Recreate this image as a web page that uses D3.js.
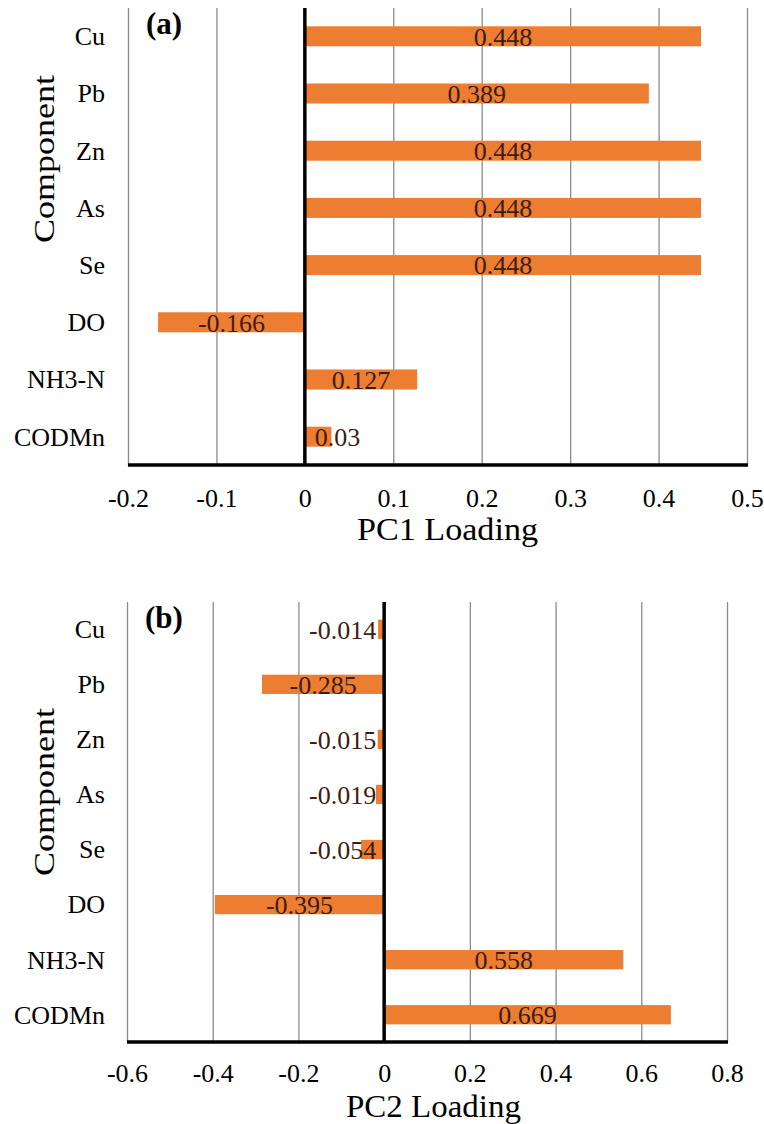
<!DOCTYPE html>
<html>
<head>
<script src="https://cdnjs.cloudflare.com/ajax/libs/d3/7.8.5/d3.min.js"></script>
<style type='text/css'>
  body { margin: 0; background: #fff; }
  svg text { font-family: "Liberation Serif", "Times New Roman", serif; fill: #000; }
  .grid line { stroke: #8c8c8c; stroke-width: 1.3; }
  .bar { fill: #ED7D31; }
  .val { fill: #3d1d12; font-size: 26px; }
</style>
</head>
<body>
<div id="chart"></div>
<script type='text/javascript'>
  // chart values
  var components = ["Cu", "Pb", "Zn", "As", "Se", "DO", "NH3-N", "CODMn"];
  var pc1 = [0.448, 0.389, 0.448, 0.448, 0.448, -0.166, 0.127, 0.03];
  var pc2 = [-0.014, -0.285, -0.015, -0.019, -0.054, -0.395, 0.558, 0.669];
  var pc1Ticks = [-0.2, -0.1, 0, 0.1, 0.2, 0.3, 0.4, 0.5];
  var pc2Ticks = [-0.6, -0.4, -0.2, 0, 0.2, 0.4, 0.6, 0.8];

  var svg = d3.select("#chart").append("svg")
      .attr("width", 764)
      .attr("height", 1124);

  function drawPanel(opt)
  {
    var rows = components.map(function(c, i) { return { name: c, v: opt.values[i] }; });

    var x = d3.scaleLinear()
        .domain([opt.ticks[0], opt.ticks[opt.ticks.length - 1]])
        .range([opt.left, opt.right]);
    var y = d3.scaleBand()
        .domain(components)
        .range([opt.top, opt.bottom])
        .paddingInner(0.65)
        .paddingOuter(0.32);

    var g = svg.append("g");

    // vertical gridlines
    g.append("g")
      .attr("class", "grid")
      .attr("transform", "translate(0," + opt.bottom + ")")
      .call(d3.axisBottom(x).tickValues(opt.ticks).tickSize(-(opt.bottom - opt.top)).tickFormat(""))
      .call(function(s) { s.select(".domain").remove(); });

    // bars
    g.selectAll("rect.bar")
      .data(rows)
      .enter().append("rect")
      .attr("class", "bar")
      .attr("x", function(d) { return x(Math.min(0, d.v)); })
      .attr("y", function(d) { return y(d.name); })
      .attr("width", function(d) { return Math.abs(x(d.v) - x(0)); })
      .attr("height", y.bandwidth());

    // zero line and bottom axis line
    g.append("line")
      .attr("x1", x(0)).attr("x2", x(0))
      .attr("y1", opt.top).attr("y2", opt.bottom)
      .attr("stroke", "#000").attr("stroke-width", 3.5);
    g.append("line")
      .attr("x1", opt.left).attr("x2", opt.right + 1)
      .attr("y1", opt.bottom).attr("y2", opt.bottom)
      .attr("stroke", "#000").attr("stroke-width", 3.5);

    // tick labels
    var ax = g.append("g")
      .attr("transform", "translate(0," + opt.bottom + ")")
      .call(d3.axisBottom(x).tickValues(opt.ticks).tickSize(0).tickPadding(opt.tickPad)
        .tickFormat(function(d) { return String(d); }));
    ax.attr("font-family", null).attr("font-size", null);
    ax.select(".domain").remove();
    ax.selectAll("text").style("font-size", "26px").attr("fill", "#000");

    // category labels
    g.selectAll("text.cat")
      .data(rows)
      .enter().append("text")
      .attr("class", "cat")
      .attr("x", 105)
      .attr("y", function(d) { return y(d.name) + y.bandwidth() / 2; })
      .attr("dy", "0.34em")
      .attr("text-anchor", "end")
      .style("font-size", "26px")
      .text(function(d) { return d.name; });

    // value labels
    var z = x(0);
    g.selectAll("text.val")
      .data(rows)
      .enter().append("text")
      .attr("class", "val")
      .attr("y", function(d) { return y(d.name) + y.bandwidth() / 2; })
      .attr("dy", "0.36em")
      .attr("text-anchor", "middle")
      .text(function(d) { return String(d.v); })
      .attr("x", function(d) {
        var w = this.getComputedTextLength();
        var c = (x(d.v) + z) / 2;
        if (d.v >= 0) return Math.max(c, z + 10 + w / 2);
        return Math.min(c, z - 8 - w / 2);
      });

    // panel tag
    g.append("text")
      .attr("x", opt.left + 18)
      .attr("y", opt.top + 26)
      .style("font-size", "31px")
      .style("font-weight", "bold")
      .text(opt.tag);

    // axis titles (stretched a little, like the original)
    g.append("text")
      .attr("x", opt.titleX)
      .attr("y", opt.titleY)
      .attr("textLength", opt.titleLen)
      .attr("lengthAdjust", "spacingAndGlyphs")
      .style("font-size", "31px")
      .text(opt.title);

    g.append("text")
      .attr("transform", "translate(54," + (opt.compY + 84) + ") rotate(-90)")
      .attr("textLength", 168)
      .attr("lengthAdjust", "spacingAndGlyphs")
      .style("font-size", "30px")
      .text("Component");
  }

  drawPanel({ values: pc1, ticks: pc1Ticks, left: 128, right: 747, top: 8, bottom: 465,
              tickPad: 24, titleX: 357, titleY: 540, titleLen: 181, compY: 159,
              tag: "(a)", title: "PC1 Loading" });
  drawPanel({ values: pc2, ticks: pc2Ticks, left: 127, right: 727, top: 602, bottom: 1042,
              tickPad: 22, titleX: 346, titleY: 1117, titleLen: 175, compY: 792,
              tag: "(b)", title: "PC2 Loading" });
</script>
</body>
</html>
